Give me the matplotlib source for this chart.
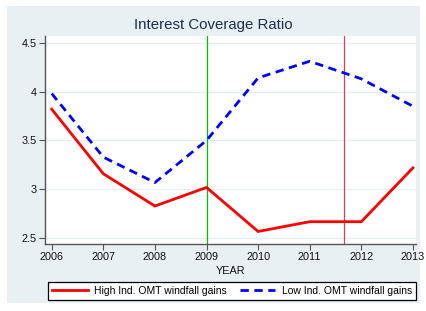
import matplotlib
matplotlib.use("Agg")
import matplotlib.pyplot as plt
from matplotlib.patches import Rectangle

plt.rcParams['font.family'] = ['Liberation Sans', 'DejaVu Sans']

years = [2006, 2007, 2008, 2009, 2010, 2011, 2012, 2013]
high_ind = [3.82, 3.16, 2.83, 3.02, 2.57, 2.67, 2.67, 3.22]
low_ind = [3.98, 3.33, 3.07, 3.50, 4.14, 4.31, 4.13, 3.85]
omt_start = 2009
omt_event = 2011.66
yticks = [2.5, 3, 3.5, 4, 4.5]
ytick_labels = ["2.5", "3", "3.5", "4", "4.5"]

W, H = 426, 311
fig = plt.figure(figsize=(W / 100, H / 100), dpi=100)
fig.patch.set_facecolor("white")
# stata graph region
fig.patches.append(Rectangle((7 / W, 1 - 303 / H), 413 / W, 297 / H,
                             transform=fig.transFigure, facecolor="#e9f0f3",
                             edgecolor="none", zorder=-5))

ax = fig.add_axes([45 / W, 1 - 244 / H, 371 / W, 208 / H])
ax.set_zorder(1)
ax.set_facecolor("white")

ax.plot(years, high_ind, color="#ff0000", lw=2.0, solid_joinstyle="miter",
        label="High Ind. OMT windfall gains", zorder=3)
ax.plot(years, low_ind, color="#0000ff", lw=2.0, ls=(0, (3, 2)),
        label="Low Ind. OMT windfall gains", zorder=3)
ax.axvline(omt_start, color="#00c000", lw=0.9, zorder=2)
ax.axvline(omt_event, color="#d8405e", lw=0.9, zorder=2)

ax.set_xlim(2005.87, 2013.06)
ax.set_ylim(2.442, 4.568)
ax.set_xticks(years)
ax.set_xticklabels([str(y) for y in years])
ax.set_yticks(yticks)
ax.set_yticklabels(ytick_labels)
ax.grid(axis="y", color="#e6eff2", lw=0.9, zorder=1)
ax.set_axisbelow(True)

for side in ["top", "right"]:
    ax.spines[side].set_visible(False)
for side in ["left", "bottom"]:
    ax.spines[side].set_color("#555555")
    ax.spines[side].set_linewidth(1.0)
ax.tick_params(direction="out", length=4, width=0.8, color="#555555",
               labelsize=7.8, labelcolor="#111111", pad=2)

ax.set_xlabel("YEAR", fontsize=7.8, color="#111111")
ax.xaxis.set_label_coords(0.5, -0.105)

fig.text(0.5, 1 - 25 / H, "Interest Coverage Ratio", ha="center", va="center",
         fontsize=10.8, color="#1e2e50")

leg = fig.legend(loc="lower left", ncol=2, mode="expand",
                 bbox_to_anchor=(48 / W, 1 - 300 / H, 368 / W, 21 / H),
                 borderaxespad=0, fontsize=7.5, handlelength=3.4,
                 handletextpad=0.6, frameon=True, fancybox=False,
                 edgecolor="black", facecolor="white", framealpha=1,
                 borderpad=0.4)
leg.get_frame().set_linewidth(0.9)
leg.set_zorder(2)

fig.savefig("out.png", dpi=100)
